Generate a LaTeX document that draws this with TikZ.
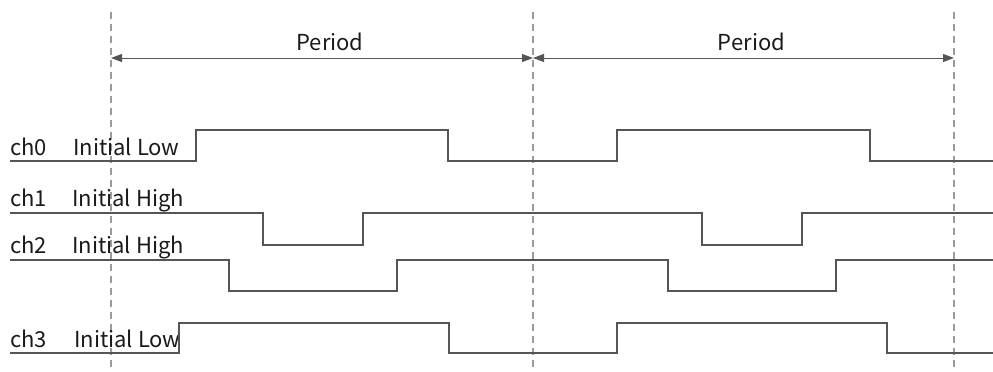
\documentclass[tikz,border=0pt]{standalone}
\usepackage{fontspec}
\setmainfont{Noto Sans CJK SC}
\usetikzlibrary{arrows.meta}
\definecolor{sigcol}{HTML}{555555}
\definecolor{dashcol}{HTML}{9A9A9A}
\definecolor{txtcol}{HTML}{1A1A1A}
\begin{document}
\begin{tikzpicture}[x=1pt, y=-1pt,
    sig/.style = {draw=sigcol, line width=1.2pt},
    guide/.style = {draw=dashcol, line width=1.2pt, dash pattern=on 7pt off 5pt},
    period/.style = {draw=sigcol, line width=1pt, {Triangle[length=11pt,width=8pt]}-{Triangle[length=11pt,width=8pt]}},
    lbl/.style = {text=txtcol, font=\fontsize{22}{26}\selectfont, inner sep=0pt, anchor=base west}]
    \useasboundingbox (0,0) rectangle (993,372);

    % guide lines
    \coordinate (t0) at (111,58);
    \coordinate (t1) at (533,58);
    \coordinate (t2) at (954,58);
    \draw[guide] (111,12) -- (111,372);
    \draw[guide] (533,12) -- (533,372);
    \draw[guide] (954,12) -- (954,372);

    % periods
    \draw[period] (t0) -- node[lbl, anchor=base, xshift=8pt, yshift=8pt] (per0) {Period} (t1);
    \draw[period] (t1) -- node[lbl, anchor=base, xshift=8pt, yshift=8pt] (per1) {Period} (t2);

    % labels
    \node[lbl] (ch0) at (10,155) {ch0};
    \node[lbl] (in0) at (73,155) {Initial Low};
    \node[lbl] (ch1) at (10,206) {ch1};
    \node[lbl] (in1) at (72,206) {Initial High};
    \node[lbl] (ch2) at (10,253) {ch2};
    \node[lbl] (in2) at (72,253) {Initial High};
    \node[lbl] (ch3) at (10,347) {ch3};
    \node[lbl] (in3) at (74,347) {Initial Low};

    % ch0
    \draw[sig] (10,161) -- (196,161) -- (196,130) -- (448,130) -- (448,161) -- (617,161) -- (617,130) -- (870,130) -- (870,161) -- (993,161);
    % ch1
    \draw[sig] (10,213) -- (263,213) -- (263,245) -- (363,245) -- (363,213) -- (702,213) -- (702,245) -- (802,245) -- (802,213) -- (993,213);
    % ch2
    \draw[sig] (10,260) -- (229,260) -- (229,291) -- (397,291) -- (397,260) -- (668,260) -- (668,291) -- (836,291) -- (836,260) -- (993,260);
    % ch3
    \draw[sig] (10,353) -- (179,353) -- (179,323) -- (449,323) -- (449,353) -- (617,353) -- (617,323) -- (887,323) -- (887,353) -- (993,353);
\end{tikzpicture}
\end{document}
